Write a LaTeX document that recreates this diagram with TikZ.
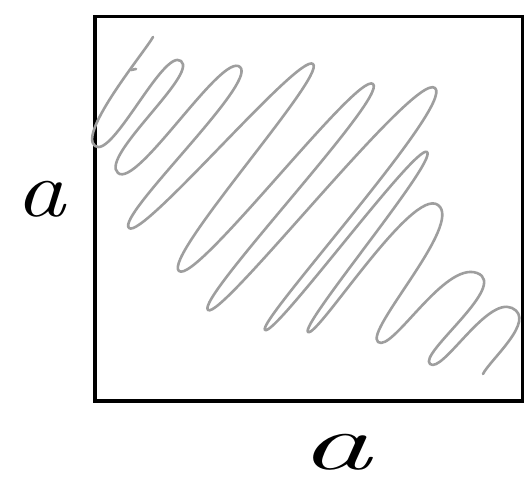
\documentclass[tikz,border=0pt]{standalone}
\usepackage{graphicx}
\begin{document}
\begin{tikzpicture}[x=1pt,y=1pt,
  frame/.style={draw=black,line width=3.5pt,line join=miter},
  scrib/.style={draw=scribgray,line width=2.6pt,line cap=round,line join=round},
  lbl/.style={inner sep=0pt,font=\fontsize{80}{80}\selectfont\itshape}]
\definecolor{scribgray}{RGB}{158,158,158}
\useasboundingbox (0,0) rectangle (529,-490);
% square
\draw[frame] (95,-16.5) rectangle (522.5,-401);
% scribble turning points
\coordinate (T0) at (153,-37);
\coordinate (B0) at (95,-146);
\coordinate (T1) at (181,-61);
\coordinate (B1) at (118,-173);
\coordinate (T2) at (240,-67);
\coordinate (B2) at (129,-228);
\coordinate (T3) at (313,-64);
\coordinate (B3) at (179,-271);
\coordinate (T4) at (373,-84);
\coordinate (B4) at (208,-310);
\coordinate (T5) at (435,-88);
\coordinate (B5) at (265,-330);
\coordinate (T6) at (427,-152);
\coordinate (B6) at (308,-332);
\coordinate (T7) at (438,-205);
\coordinate (B7) at (378,-342);
\coordinate (T8) at (477,-273);
\coordinate (B8) at (430,-364);
\coordinate (T9) at (512,-308);
\coordinate (E) at (483,-374);
\coordinate (S1) at (136,-69);
\coordinate (S2) at (131,-70);
\draw[scrib] (T0)
  to[out=242,in=143,out distance=15pt,in distance=22pt] (B0)
  to[out=-37,in=143,out distance=22pt,in distance=22pt] (T1)
  to[out=-37,in=140,out distance=22pt,in distance=25pt] (B1)
  to[out=-40,in=139,out distance=25pt,in distance=24pt] (T2)
  to[out=-41,in=138,out distance=24pt,in distance=18pt] (B2)
  to[out=-42,in=139,out distance=18pt,in distance=18pt] (T3)
  to[out=-41,in=140,out distance=18pt,in distance=22pt] (B3)
  to[out=-40,in=139,out distance=22pt,in distance=20pt] (T4)
  to[out=-41,in=139,out distance=20pt,in distance=17pt] (B4)
  to[out=-41,in=139,out distance=17pt,in distance=26pt] (T5)
  to[out=-41,in=142,out distance=26pt,in distance=12pt] (B5)
  to[out=-38,in=142,out distance=12pt,in distance=14pt] (T6)
  to[out=-38,in=141,out distance=14pt,in distance=11pt] (B6)
  to[out=-39,in=144,out distance=11pt,in distance=32pt] (T7)
  to[out=-36,in=142,out distance=32pt,in distance=18pt] (B7)
  to[out=-38,in=160,out distance=18pt,in distance=35pt] (T8)
  to[out=-20,in=140,out distance=35pt,in distance=16pt] (B8)
  to[out=-40,in=155,out distance=16pt,in distance=28pt] (T9)
  to[out=-25,in=65,out distance=28pt,in distance=15pt] (E);
\draw[scrib] (S1) -- (S2);
% labels
\node[lbl] (la) at (40,-199) {\scalebox{1.25}[1]{a}};
\node[lbl] (lb) at (335,-452) {\scalebox{1.8}[1]{a}};
\end{tikzpicture}
\end{document}
